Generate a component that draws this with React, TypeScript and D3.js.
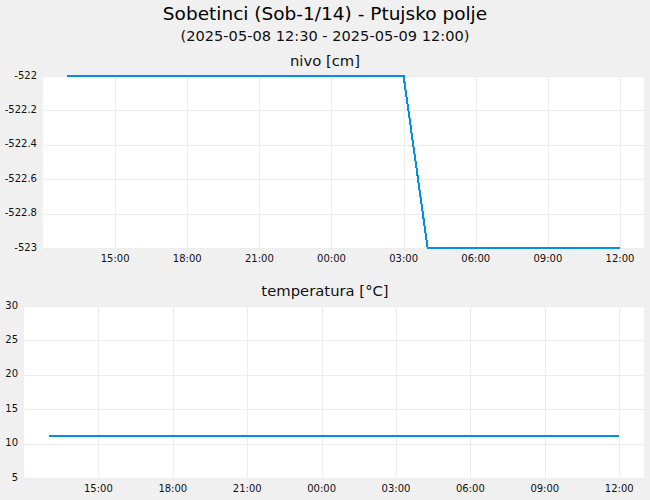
import React from "react";
import { scaleLinear, scaleTime, line, timeFormat } from "d3";

// hourly readings, 2025-05-08 13:00 .. 2025-05-09 12:00
const times = [
  "2025-05-08T13:00", "2025-05-08T14:00", "2025-05-08T15:00", "2025-05-08T16:00",
  "2025-05-08T17:00", "2025-05-08T18:00", "2025-05-08T19:00", "2025-05-08T20:00",
  "2025-05-08T21:00", "2025-05-08T22:00", "2025-05-08T23:00", "2025-05-09T00:00",
  "2025-05-09T01:00", "2025-05-09T02:00", "2025-05-09T03:00", "2025-05-09T04:00",
  "2025-05-09T05:00", "2025-05-09T06:00", "2025-05-09T07:00", "2025-05-09T08:00",
  "2025-05-09T09:00", "2025-05-09T10:00", "2025-05-09T11:00", "2025-05-09T12:00",
];
const nivo = [
  -522, -522, -522, -522, -522, -522, -522, -522,
  -522, -522, -522, -522, -522, -522, -522, -523,
  -523, -523, -523, -523, -523, -523, -523, -523,
];
const temperatura = [
  11.1, 11.1, 11.1, 11.1, 11.1, 11.1, 11.1, 11.1,
  11.1, 11.1, 11.1, 11.1, 11.1, 11.1, 11.1, 11.1,
  11.1, 11.1, 11.1, 11.1, 11.1, 11.1, 11.1, 11.1,
];
const xTicks = [
  "2025-05-08T15:00", "2025-05-08T18:00", "2025-05-08T21:00", "2025-05-09T00:00",
  "2025-05-09T03:00", "2025-05-09T06:00", "2025-05-09T09:00", "2025-05-09T12:00",
];
const nivoTicks = [-523, -522.8, -522.6, -522.4, -522.2, -522];
const tempTicks = [5, 10, 15, 20, 25, 30];
const xDomain = ["2025-05-08T12:00", "2025-05-09T13:00"];

const W = 650;
const H = 500;
const FONT = "DejaVu Sans, sans-serif";
const LINE = "#008fe8";
const GRID = "#ececec";
const fmt = timeFormat("%H:%M");

function Panel({ title, values, yTicks, yDomain, left, top, bottom, titleY, fmtY }) {
  const x = scaleTime()
    .domain(xDomain.map((d) => new Date(d)))
    .range([left, 644]);
  const y = scaleLinear().domain(yDomain).range([bottom, top]);
  const pts = times.map((t, i) => [new Date(t), values[i]]);
  const path = line()
    .x((d) => x(d[0]))
    .y((d) => y(d[1]))(pts);
  return (
    <g>
      <text x={W / 2} y={titleY} textAnchor="middle" fontSize={14.8} fill="#111" fontFamily={FONT}>
        {title}
      </text>
      <rect x={left} y={top} width={644 - left} height={bottom - top} fill="#fff" />
      {yTicks.map((t) => (
        <g key={"y" + t}>
          <line x1={left} x2={644} y1={Math.round(y(t)) + 0.5} y2={Math.round(y(t)) + 0.5} stroke={GRID} />
          <text x={left - 6} y={y(t) - 1} textAnchor="end" dominantBaseline="central" fontSize={10} fill="#111" fontFamily={FONT}>
            {fmtY(t)}
          </text>
        </g>
      ))}
      {xTicks.map((t) => {
        const d = new Date(t);
        const px = Math.round(x(d)) + 0.5;
        return (
          <g key={t}>
            <line x1={px} x2={px} y1={top} y2={bottom} stroke={GRID} />
            <text x={x(d)} y={bottom + 10} textAnchor="middle" dominantBaseline="central" fontSize={10} fill="#111" fontFamily={FONT}>
              {fmt(d)}
            </text>
          </g>
        );
      })}
      <path d={path} fill="none" stroke={LINE} strokeWidth={2} shapeRendering="crispEdges" />
    </g>
  );
}

export default function App() {
  return (
    <div style={{ position: "absolute", left: 0, top: 0 }}>
      <svg width={W} height={H} style={{ display: "block" }}>
        <rect width={W} height={H} fill="#f0f0f0" />
        <text x={W / 2} y={20} textAnchor="middle" fontSize={18.5} fill="#000" fontFamily={FONT}>
          Sobetinci (Sob-1/14) - Ptujsko polje
        </text>
        <text x={W / 2} y={41} textAnchor="middle" fontSize={14.6} fill="#111" fontFamily={FONT}>
          (2025-05-08 12:30 - 2025-05-09 12:00)
        </text>
        <Panel
          title="nivo [cm]"
          values={nivo}
          yTicks={nivoTicks}
          yDomain={[-523, -522]}
          left={43}
          top={76}
          bottom={248}
          titleY={66}
          fmtY={(v) => String(+v.toFixed(1))}
        />
        <Panel
          title="temperatura [°C]"
          values={temperatura}
          yTicks={tempTicks}
          yDomain={[5, 30]}
          left={24}
          top={306}
          bottom={478}
          titleY={296}
          fmtY={(v) => String(v)}
        />
      </svg>
    </div>
  );
}
